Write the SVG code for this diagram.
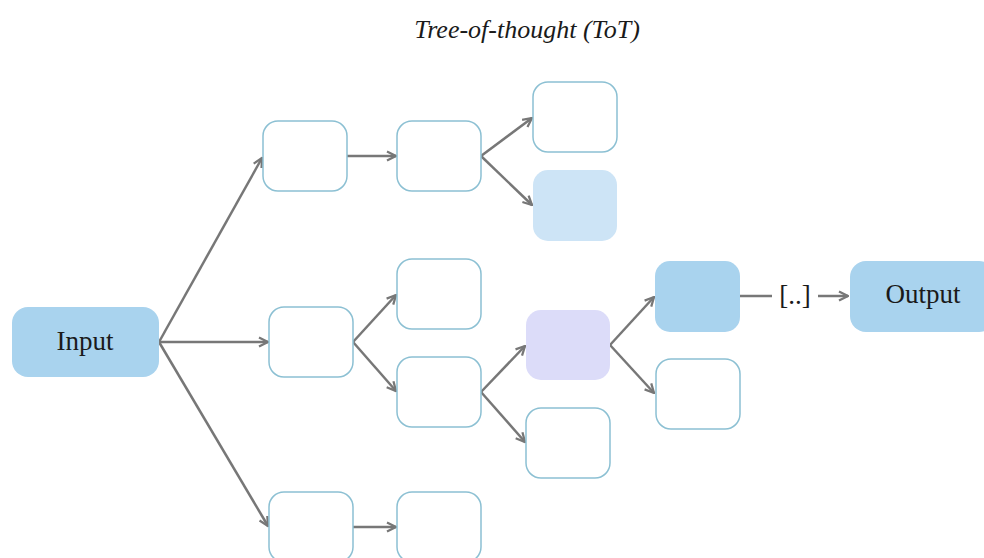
<svg xmlns="http://www.w3.org/2000/svg" width="984" height="558" viewBox="0 0 984 558">
  <style>
    .node { fill: #ffffff; stroke: #8cc0d3; stroke-width: 1.5; }
    .io { fill: #a9d3ee; stroke: none; }
    .pale { fill: #cde4f6; stroke: none; }
    .lav { fill: #dcdcf9; stroke: none; }
    .edge { fill: none; stroke: #777777; stroke-width: 2.5; }
    .lbl { font-family: "Liberation Serif", "Times New Roman", serif; font-size: 27px; fill: #1a1a1a; text-anchor: middle; }
    .title { font-family: "Liberation Serif", "Times New Roman", serif; font-style: italic; font-size: 26px; fill: #1a1a1a; text-anchor: middle; }
  </style>
  <defs>
    <marker id="arrow" viewBox="0 0 10 10" refX="9" refY="5" markerWidth="4.5" markerHeight="4.5" orient="auto" markerUnits="strokeWidth">
      <path d="M1,1 L9,5 L1,9" fill="none" stroke="#777777" stroke-width="2"/>
    </marker>
  </defs>
  <rect width="984" height="558" fill="#ffffff"/>

  <text class="title" x="527" y="38">Tree-of-thought (ToT)</text>

  <g id="connectors">
    <path class="edge" d="M159,342 L262,158" marker-end="url(#arrow)"/>
    <path class="edge" d="M159,342 L268,342" marker-end="url(#arrow)"/>
    <path class="edge" d="M159,342 L268,526" marker-end="url(#arrow)"/>
    <path class="edge" d="M347,156 L396,156" marker-end="url(#arrow)"/>
    <path class="edge" d="M481,156 L532,118" marker-end="url(#arrow)"/>
    <path class="edge" d="M481,156 L532,205" marker-end="url(#arrow)"/>
    <path class="edge" d="M353,342 L396,295" marker-end="url(#arrow)"/>
    <path class="edge" d="M353,342 L396,391" marker-end="url(#arrow)"/>
    <path class="edge" d="M481,392 L525,346" marker-end="url(#arrow)"/>
    <path class="edge" d="M481,392 L525,442" marker-end="url(#arrow)"/>
    <path class="edge" d="M610,345 L654,297" marker-end="url(#arrow)"/>
    <path class="edge" d="M610,345 L654,393" marker-end="url(#arrow)"/>
    <path class="edge" d="M353,527 L396,527" marker-end="url(#arrow)"/>
    <path class="edge" d="M740,296 L772,296"/>
    <path class="edge" d="M818,296 L848,296" marker-end="url(#arrow)"/>
    <text class="lbl" x="795" y="304">[..]</text>
  </g>

  <g id="input"><rect class="io" x="12" y="307" width="147" height="70" rx="16"/><text class="lbl" x="85" y="350">Input</text></g>

  <g id="c1-top"><rect class="node" x="263" y="121" width="84" height="70" rx="15"/></g>
  <g id="c1-mid"><rect class="node" x="269" y="307" width="84" height="70" rx="15"/></g>
  <g id="c1-bot"><rect class="node" x="269" y="492" width="84" height="70" rx="15"/></g>

  <g id="c2-a"><rect class="node" x="397" y="121" width="84" height="70" rx="15"/></g>
  <g id="c2-b"><rect class="node" x="397" y="259" width="84" height="70" rx="15"/></g>
  <g id="c2-c"><rect class="node" x="397" y="357" width="84" height="70" rx="15"/></g>
  <g id="c2-d"><rect class="node" x="397" y="492" width="84" height="70" rx="15"/></g>

  <g id="c3-a"><rect class="node" x="533" y="82" width="84" height="70" rx="15"/></g>
  <g id="c3-b"><rect class="pale" x="533" y="170" width="84" height="71" rx="15"/></g>
  <g id="c3-c"><rect class="lav" x="526" y="310" width="84" height="70" rx="15"/></g>
  <g id="c3-d"><rect class="node" x="526" y="408" width="84" height="70" rx="15"/></g>

  <g id="c4-a"><rect class="io" x="655" y="261" width="85" height="71" rx="15"/></g>
  <g id="c4-b"><rect class="node" x="656" y="359" width="84" height="70" rx="15"/></g>

  <g id="output"><rect class="io" x="850" y="261" width="145" height="71" rx="16"/><text class="lbl" x="923" y="303">Output</text></g>
</svg>
